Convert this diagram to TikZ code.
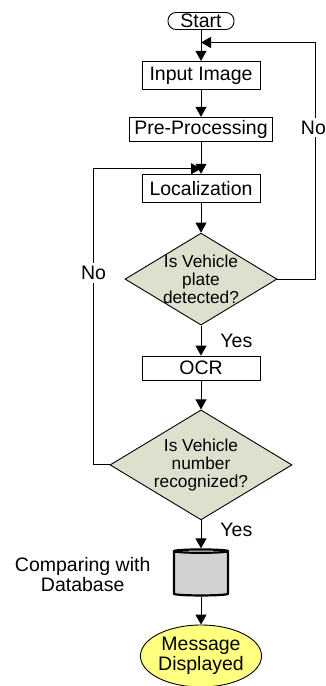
\documentclass[tikz,border=0pt]{standalone}
\usepackage{fontspec}
\setmainfont{Liberation Sans}
\usetikzlibrary{positioning,shapes.geometric,arrows.meta}
\definecolor{decisionfill}{RGB}{221,224,204}
\definecolor{msgfill}{RGB}{255,255,128}

\begin{document}
\begin{tikzpicture}[
  x=1pt, y=1pt,
  font=\fontsize{19.5}{20}\selectfont,
  line width=0.9pt,
  box/.style={draw, align=center, inner xsep=5pt, inner ysep=1pt, minimum width=118pt},
  terminal/.style={draw, rounded corners=8pt, minimum width=66pt, minimum height=17pt, inner sep=0.5pt},
  decision/.style={diamond, draw, fill=decisionfill, inner sep=0pt},
  dtext/.style={align=center, font=\fontsize{17.3}{18}\selectfont},
  dbase/.style={cylinder, shape border rotate=90, aspect=0.5, draw, line width=2.2pt,
    cylinder uses custom fill, cylinder body fill=gray!35, cylinder end fill=gray!8,
    minimum width=54pt, minimum height=46pt},
  message/.style={ellipse, draw, fill=msgfill, align=center, minimum width=110pt, minimum height=62pt, inner sep=0pt},
  lbl/.style={inner sep=3pt},
  arr/.style={-{Triangle[length=10pt,width=11pt]}}
]

\useasboundingbox (0,0) rectangle (326,-686);

\node[terminal] (start) at (201,-21) {Start};
\node[box, minimum height=28pt, below=31pt of start] (input) {Input Image};
\node[box, minimum height=24pt, below=27pt of input] (pre) {Pre-Processing};
\node[box, minimum height=28pt, below=32pt of pre] (loc) {Localization};
\node[decision, minimum width=152pt, minimum height=92pt, below=30pt of loc,
  label={[dtext]center:Is Vehicle\\plate\\detected?}] (d1) {};
\node[box, minimum height=24pt, below=30pt of d1] (ocr) {OCR};
\node[decision, minimum width=182pt, minimum height=110pt, below=29pt of ocr,
  label={[dtext]center:Is Vehicle\\number\\recognized?}] (d2) {};
\node[dbase, below=28pt of d2] (db) {};
\node[lbl, align=center, left=19pt of db] (dbtext) {Comparing with\\Database};
\node[message, below=28pt of db] (msg) {Message\\Displayed};

\coordinate[below=12.5pt of start.south] (j1);
\coordinate[below=27pt of pre.south] (j2);

% main flow
\draw[arr] (start) -- (input);
\draw[arr] (input) -- (pre);
\draw[arr] (pre) -- (loc);
\draw[arr] (loc) -- (d1);
\draw[arr] (d1) -- node[lbl, right=16pt]{Yes} (ocr);
\draw[arr] (ocr) -- (d2);
\draw[arr] (d2) -- node[lbl, pos=0.35, right=16pt]{Yes} (db);
\draw[arr] (db) -- (msg);

% loops back
\draw[arr] (d1.east) -- ++(38,0) |- node[lbl, pos=0.32, fill=white, xshift=-2pt, inner xsep=1pt]{No} (j1);
\draw[arr] (d2.west) -- ++(-16,0) |- node[lbl, pos=0.324, fill=white]{No} (j2);

\end{tikzpicture}
\end{document}
